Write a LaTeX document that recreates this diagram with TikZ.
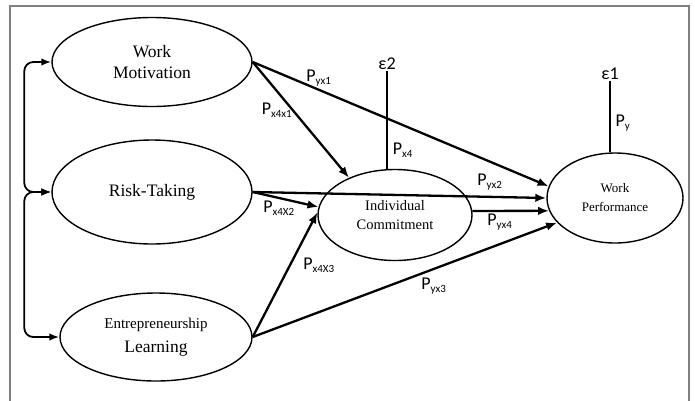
\documentclass[tikz,border=0pt]{standalone}
\usepackage{fontspec}
\setmainfont{Liberation Serif}
\newfontfamily\lblfont{Carlito}
\usetikzlibrary{shapes.geometric,arrows.meta}
\tikzset{
  latent/.style={ellipse, draw, line width=1.4pt, inner sep=0pt, align=center},
  pathar/.style={line width=2.3pt, -{Latex[length=11pt,width=8.5pt]}},
  corr/.style={line width=1.8pt, {Latex[length=10pt,width=7.5pt]}-{Latex[length=10pt,width=7.5pt]}, rounded corners=9pt},
  errline/.style={line width=2.6pt},
  plab/.style={font=\lblfont\fontsize{18}{18}\selectfont, inner sep=1pt},
  elab/.style={font=\lblfont\fontsize{18}{18}\selectfont, inner sep=1pt},
}
\newcommand{\PP}[1]{P\textsubscript{\fontsize{11}{11}\selectfont #1}}
\begin{document}
\begin{tikzpicture}[x=1pt,y=-1pt]
\useasboundingbox (0,0) rectangle (695,400);
\draw[line width=1.3pt, draw=black!50] (10,410) -- (10,6) -- (689,6) -- (689,410);

\node[latent, minimum width=200pt, minimum height=89pt, font=\fontsize{17.5}{21}\selectfont] (WM) at (152,62) {Work\\Motivation};
\node[latent, minimum width=200pt, minimum height=104pt, font=\fontsize{17.5}{21}\selectfont] (RT) at (152,192) {Risk-Taking};
\node[latent, minimum width=192pt, minimum height=88pt, font=\fontsize{17.5}{24}\selectfont] (EL) at (156,337) {{\fontsize{15}{15}\selectfont Entrepreneurship}\\Learning};
\node[latent, minimum width=154pt, minimum height=91pt, font=\fontsize{14.5}{19}\selectfont] (IC) at (395,215) {Individual\\Commitment};
\node[latent, minimum width=136pt, minimum height=90pt, font=\fontsize{13}{19}\selectfont] (WP) at (615,198) {Work\\Performance};

\node[elab, anchor=south] (e2) at (387,71) {ε2};
\node[elab, anchor=south] (e1) at (610,81) {ε1};
\draw[errline] (e2.south) -- (e2.south |- IC.north);
\draw[errline] (e1.south) -- (e1.south |- WP.north);

\draw[pathar] (WM.east) -- (WP.170);
\draw[pathar] (WM.east) -- (IC.141);
\draw[pathar] (RT.east) -- (WP.west);
\draw[pathar] (RT.east) -- (IC.174);
\draw[pathar] (EL.east) -- (IC.178);
\draw[pathar] (EL.east) -- (WP.203);
\draw[pathar] (IC.3) -- (WP.191);

\draw[corr] (WM.west) -- ++(-27,0) |- (RT.west);
\draw[corr] (RT.west) -- ++(-27,0) |- (EL.west);

\node[plab] (l1) at (319,78) {\PP{yx1}};
\node[plab] (l2) at (277,110) {\PP{x4x1}};
\node[plab] (l3) at (279,208) {\PP{x4X2}};
\node[plab] (l4) at (319,265) {\PP{x4X3}};
\node[plab] (l5) at (490,182) {\PP{yx2}};
\node[plab] (l6) at (500,222) {\PP{yx4}};
\node[plab] (l7) at (434,286) {\PP{yx3}};
\node[plab] (l8) at (403,150) {\PP{x4}};
\node[plab] (l9) at (623,123) {\PP{y}};
\end{tikzpicture}
\end{document}
